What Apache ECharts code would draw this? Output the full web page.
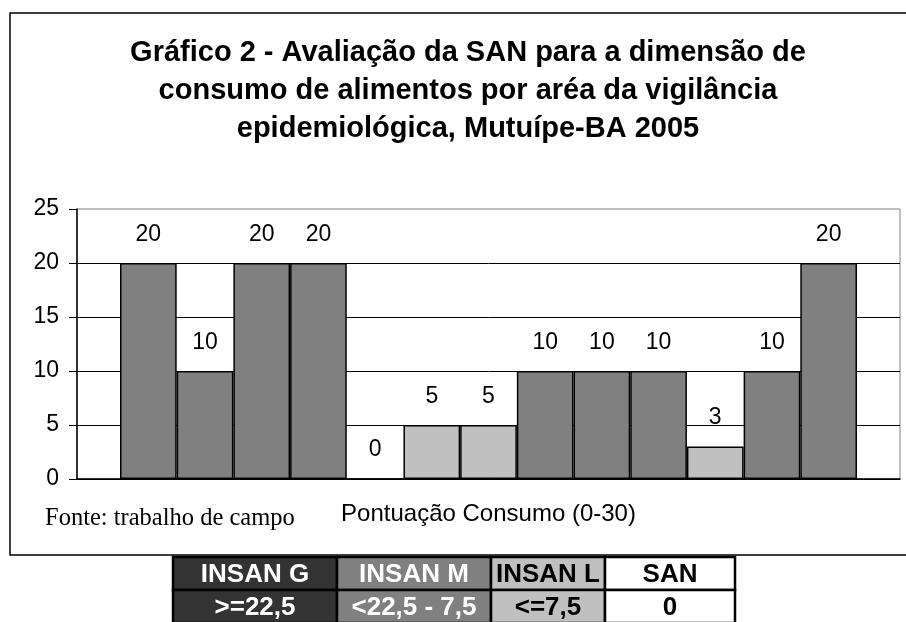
<!DOCTYPE html>
<html>
<head>
<meta charset="utf-8">
<script src="https://cdn.jsdelivr.net/npm/echarts@6/dist/echarts.min.js"></script>
<style>
  html, body { margin: 0; padding: 0; background: #fff; }
  #chart { width: 906px; height: 622px; }
</style>
</head>
<body>
<div id="chart"></div>
<script>
// dados do gráfico
var categoria = ['Pontuação Consumo (0-30)']
var valores = [20, 10, 20, 20, 0, 5, 5, 10, 10, 10, 3, 10, 20]
var classes = ['M', 'M', 'M', 'M', 'M', 'L', 'L', 'M', 'M', 'M', 'L', 'M', 'M']
var yTicks = [0, 5, 10, 15, 20, 25]

// quadro de classificação abaixo do gráfico
var quadroTitulos = ['INSAN G', 'INSAN M', 'INSAN L', 'SAN']
var quadroFaixas = ['>=22,5', '<22,5 - 7,5', '<=7,5', '0']
var quadroFundo = ['#333333', '#808080', '#c0c0c0', '#ffffff']
var quadroTexto = ['#ffffff', '#ffffff', '#000000', '#000000']

var corClasse = { G: '#333333', M: '#808080', L: '#c0c0c0', S: '#ffffff' }

var titulo = 'Gráfico 2 - Avaliação da SAN para a dimensão de\n' +
  'consumo de alimentos por aréa da vigilância\n' +
  'epidemiológica, Mutuípe-BA 2005'

var series = valores.map(function (v, i) {
  return {
    type: 'bar',
    name: 'area' + (i + 1),
    data: [v],
    barGap: '0%',
    barCategoryGap: '10.45%',
    itemStyle: { color: corClasse[classes[i]], borderColor: '#000', borderWidth: 1.5 },
    label: {
      show: true, position: 'top', distance: 17,
      color: '#000', fontSize: 23, fontFamily: 'Liberation Sans'
    }
  }
})

// quadro (legenda em tabela)
var colX = [173, 337, 491, 605, 735]
var rowY = [557, 590, 623]
var quadro = []
for (var c = 0; c < 4; c++) {
  var linhas = [quadroTitulos[c], quadroFaixas[c]]
  for (var r = 0; r < 2; r++) {
    quadro.push({
      type: 'rect',
      shape: { x: colX[c], y: rowY[r], width: colX[c + 1] - colX[c], height: rowY[r + 1] - rowY[r] },
      style: { fill: quadroFundo[c], stroke: '#000', lineWidth: 2.5 }
    })
    quadro.push({
      type: 'text',
      x: (colX[c] + colX[c + 1]) / 2,
      y: (rowY[r] + rowY[r + 1]) / 2 + 1,
      style: {
        text: linhas[r], fill: quadroTexto[c], fontSize: 26, fontWeight: 'bold',
        fontFamily: 'Liberation Sans', align: 'center', verticalAlign: 'middle'
      }
    })
  }
}

var chart = echarts.init(document.getElementById('chart'))
chart.setOption({
  animation: false,
  backgroundColor: '#fff',
  title: {
    text: titulo,
    left: 463, top: 29, textAlign: 'center',
    textStyle: { fontFamily: 'Liberation Sans', fontSize: 29, fontWeight: 'bold', color: '#000', lineHeight: 38 }
  },
  grid: {
    left: 77, right: 6, top: 209, bottom: 143,
    show: true, borderColor: '#808080', borderWidth: 1, backgroundColor: '#fff'
  },
  xAxis: {
    type: 'category',
    data: categoria,
    axisLine: { lineStyle: { color: '#000', width: 1.5 } },
    axisTick: { length: 8, lineStyle: { color: '#000' } },
    axisLabel: { color: '#000', fontSize: 24, fontFamily: 'Liberation Sans', margin: 23 }
  },
  yAxis: {
    type: 'value',
    min: yTicks[0], max: yTicks[yTicks.length - 1], interval: 5,
    axisLine: { show: true, lineStyle: { color: '#000', width: 1.5 } },
    axisTick: { show: true, length: 8, lineStyle: { color: '#000' } },
    axisLabel: { color: '#000', fontSize: 23, fontFamily: 'Liberation Sans', margin: 18 },
    splitLine: { show: true, showMaxLine: false, lineStyle: { color: '#000', width: 1 } }
  },
  series: series,
  graphic: [
    {
      type: 'rect', z: -10, silent: true,
      shape: { x: 10, y: 13, width: 910, height: 542 },
      style: { fill: 'none', stroke: '#000', lineWidth: 1.5 }
    },
    {
      type: 'text', left: 45, top: 506,
      style: { text: 'Fonte: trabalho de campo', fontFamily: 'Liberation Serif', fontSize: 24.5, fill: '#000' }
    }
  ].concat(quadro)
})
</script>
</body>
</html>
